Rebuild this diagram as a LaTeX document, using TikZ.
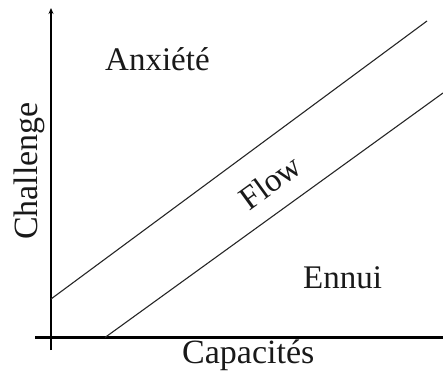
\documentclass[tikz,border=0pt]{standalone}
\usepackage{fontspec}
\setmainfont{Liberation Serif}
\usetikzlibrary{arrows.meta}
\begin{document}
\begin{tikzpicture}[x=1pt,y=-1pt,
  axis/.style={line width=2.6pt},
  diag/.style={line width=1.1pt, draw=black!85},
  lbl/.style={font=\fontsize{33}{36}\selectfont, inner sep=0pt, text=black!90}]
\useasboundingbox (0,0) rectangle (443,374);
\coordinate (ybot) at (51,350);
\coordinate (ytop) at (51,8);
\coordinate (xl) at (35,337.5);
\coordinate (xr) at (443,337.5);
\coordinate (a1) at (51,299);
\coordinate (a2) at (427,21);
\coordinate (b1) at (105,337.5);
\coordinate (b2) at (443,93);
\draw[axis,-{Stealth[length=6pt,width=5pt]}] (ybot) -- (ytop);
\draw[axis] (xl) -- (xr);
\draw[diag] (a1) -- (a2);
\draw[diag] (b1) -- (b2);
\node[lbl, anchor=base west] (anx) at (105,71) {Anxiété};
\node[lbl, anchor=base west] (enn) at (303,288) {Ennui};
\node[lbl, anchor=base west, font=\fontsize{34}{36}\selectfont] (cap) at (182,363) {Capacités};
\node[lbl, anchor=base west, rotate=90, font=\fontsize{34}{36}\selectfont] (cha) at (37,240) {Challenge};
\node[lbl, rotate=36] (flow) at (270,182) {Flow};
\end{tikzpicture}
\end{document}
